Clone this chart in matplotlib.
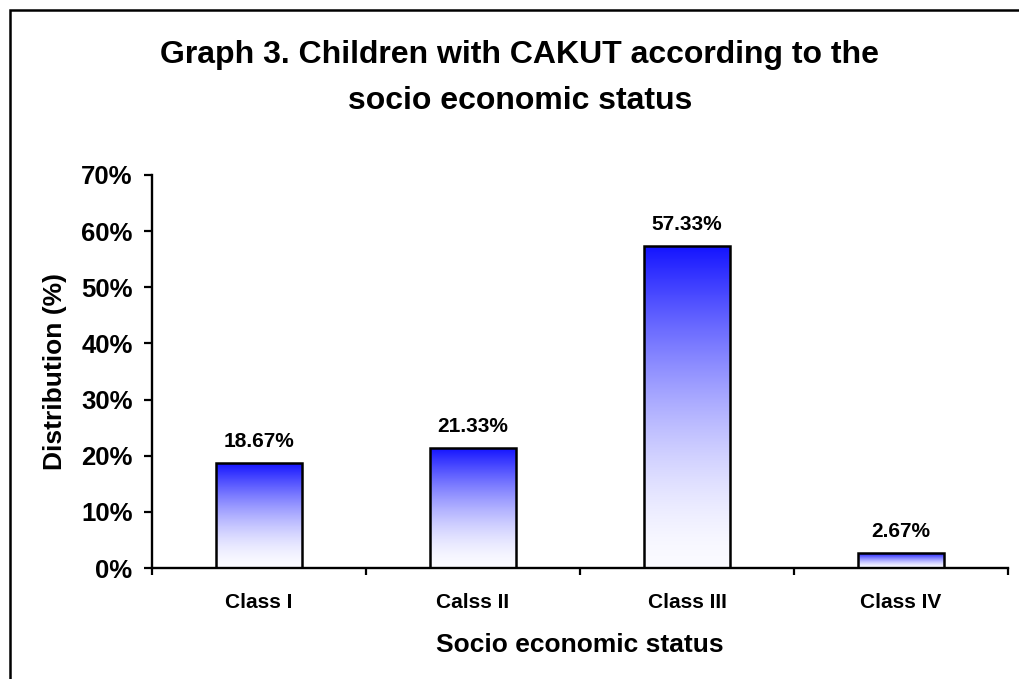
import numpy as np
import matplotlib
matplotlib.use("Agg")
import matplotlib.pyplot as plt
from matplotlib.lines import Line2D
from matplotlib.ticker import FuncFormatter

# Data
categories = ["Class I", "Calss II", "Class III", "Class IV"]
distribution = [18.67, 21.33, 57.33, 2.67]
value_labels = ["18.67%", "21.33%", "57.33%", "2.67%"]
y_ticks = [0, 10, 20, 30, 40, 50, 60, 70]
title_lines = ["Graph 3. Children with CAKUT according to the",
               "socio economic status"]
x_title = "Socio economic status"
y_title = "Distribution (%)"

W, H, DPI = 1019, 679, 100
plt.rcParams["font.family"] = ["Liberation Sans", "DejaVu Sans"]
plt.rcParams["font.weight"] = "bold"

fig = plt.figure(figsize=(W / DPI, H / DPI), dpi=DPI)


def fx(px):
    return px / W


def fy(py):
    return 1 - py / H


ax = fig.add_axes([fx(152), fy(568), fx(1008) - fx(152), fy(175) - fy(568)])

x = np.arange(len(categories))
bars = ax.bar(x, distribution, width=0.40, facecolor="none",
              edgecolor="black", linewidth=1.8, zorder=3)

# Vertical blue-to-white gradient inside each bar
t = np.linspace(0, 1, 256)
s = 1 - (1 - t) ** 1.6
top_c = np.array([0.08, 0.08, 1.0])
bot_c = np.array([0.985, 0.985, 1.0])
grad = (top_c[None, :] * (1 - s[:, None]) + bot_c[None, :] * s[:, None])[:, None, :]
for b in bars:
    ax.imshow(grad, extent=[b.get_x(), b.get_x() + b.get_width(), 0, b.get_height()],
              aspect="auto", origin="upper", zorder=2, interpolation="bilinear")

ax.set_xlim(-0.5, len(categories) - 0.5)
ax.set_ylim(y_ticks[0], y_ticks[-1])

for side in ("top", "right"):
    ax.spines[side].set_visible(False)
for side in ("left", "bottom"):
    ax.spines[side].set_linewidth(1.7)
    ax.spines[side].set_zorder(4)

ax.set_yticks(y_ticks)
ax.yaxis.set_major_formatter(FuncFormatter(lambda v, _: f"{v:.0f}%"))
ax.tick_params(axis="y", direction="out", length=5.5, width=1.6, pad=8.5,
               labelsize=18.5)

ax.set_xticks(x, categories)
ax.tick_params(axis="x", which="major", length=0, pad=18, labelsize=15)
ax.set_xticks(np.arange(-0.5, len(categories), 1.0), minor=True)
ax.tick_params(axis="x", which="minor", direction="out", length=5, width=1.6)

for xi, v, lab in zip(x, distribution, value_labels):
    ax.annotate(lab, (xi, v), xytext=(0, 11.5), textcoords="offset points",
                ha="center", va="baseline", fontsize=15, fontweight="bold")

ax.set_xlabel(x_title, fontsize=19, fontweight="bold")
ax.xaxis.label.set_va("baseline")
ax.xaxis.set_label_coords(0.5, (568 - 652) / 393)

ax.set_ylabel(y_title, fontsize=19, fontweight="bold")
ax.yaxis.label.set_va("center")
ax.yaxis.set_label_coords((55 - 152) / 856, 0.5)

fig.text(fx(520), fy(63), title_lines[0], ha="center", va="baseline",
         fontsize=23, fontweight="bold")
fig.text(fx(520), fy(109), title_lines[1], ha="center", va="baseline",
         fontsize=23, fontweight="bold")

# Chart-area frame
fig.add_artist(Line2D([fx(9.5), fx(9.5), 1.02], [-0.02, fy(9.5), fy(9.5)],
                      transform=fig.transFigure, color="black", lw=1.8,
                      solid_joinstyle="miter"))

fig.savefig("out.png", dpi=DPI)
